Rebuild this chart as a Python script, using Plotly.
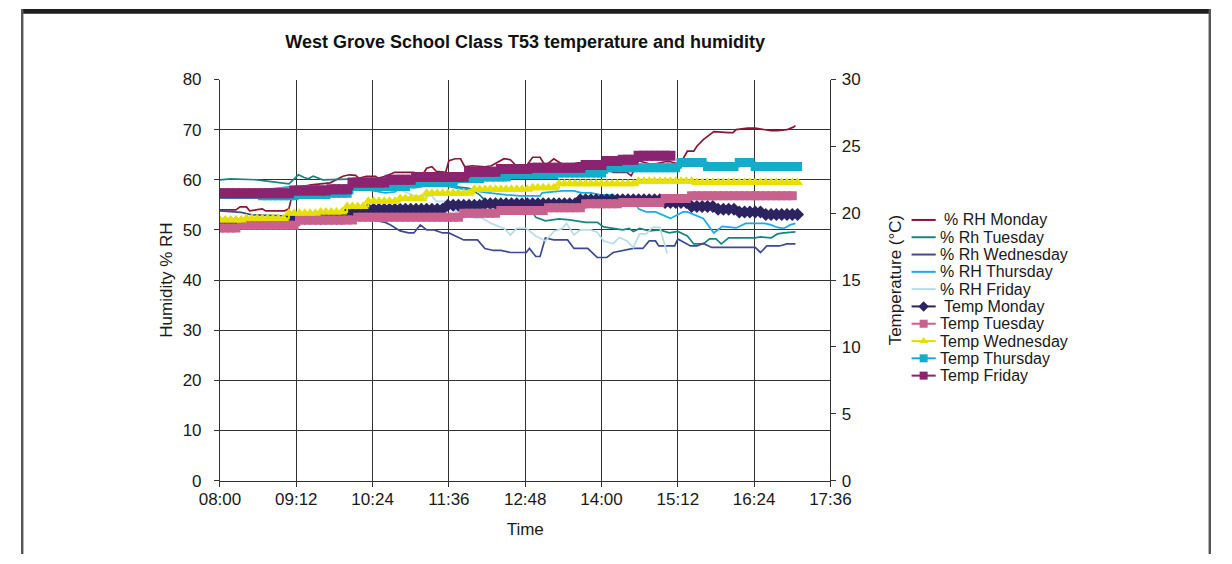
import pandas as pd
import plotly.graph_objects as go

DAY = "2000-01-01 "

# ---------------- % RH readings (time, %RH) ----------------
rh_monday = [("08:00",54.0),("08:15",54.0),("08:19",54.6),("08:25",54.6),("08:28",53.8),("08:37",54.2),("08:40",54.2),
             ("08:43",53.8),("09:01",53.8),("09:05",54.2),("09:07",56.0),("09:10",57.5),("09:14",58.5),("09:26",59.0),
             ("09:44",59.4),("09:56",60.7),("10:02",61.0),("10:08",60.9),("10:11",60.3),("10:18",60.7),("10:27",60.7),
             ("10:29",60.3),("10:36",60.7),("10:45",61.5),("11:03",61.5),("11:09",60.3),("11:15",62.3),("11:20",62.6),
             ("11:24",61.7),("11:33",61.5),("11:36",63.8),("11:42",64.2),("11:47",64.2),("11:51",62.6),("11:58",62.8),
             ("12:10",62.6),("12:16",62.8),("12:28",64.2),("12:34",64.0),("12:40",62.7),("12:49",62.7),("12:55",64.5),
             ("13:02",64.5),("13:07",62.8),("13:15",64.2),("13:25",62.8),("13:38",63.4),("13:50",63.4),("13:59",62.3),
             ("14:05",62.3),("14:11",61.5),("14:24",61.5),("14:28",60.8),("14:35",63.8),("14:45",63.2),("14:51",63.2),
             ("15:00",63.6),("15:05",63.6),("15:12",63.2),("15:17",64.2),("15:21",65.7),("15:27",65.7),("15:30",66.7),
             ("15:36",68.0),("15:46",69.6),("16:00",69.4),("16:04",69.4),("16:07",70.0),("16:18",70.3),("16:25",70.3),
             ("16:34",70.0),("16:40",69.8),("16:46",69.8),("16:55",70.0),("17:01",70.5),("17:03",70.8)]
rh_tuesday = [("08:00",60.0),("08:10",60.2),("08:35",60.0),("08:56",59.5),("09:05",59.2),("09:10",60.2),("09:14",61.0),
              ("09:19",60.5),("09:23",60.2),("09:28",60.7),("09:37",60.0),("10:08",60.2),("10:30",59.6),("10:50",59.0),
              ("11:03",58.8),("11:36",58.8),("11:55",58.3),("12:05",57.0),("12:12",55.5),("12:25",55.2),("12:50",55.2),
              ("12:58",52.5),("13:07",51.8),("13:20",52.2),("13:30",52.0),("13:45",51.5),("13:56",51.5),("14:02",50.6),
              ("14:11",50.3),("14:20",50.0),("14:26",50.3),("14:30",49.7),("14:36",50.3),("14:45",49.8),("14:55",50.0),
              ("15:04",49.4),("15:12",49.7),("15:21",48.8),("15:27",47.2),("15:36",47.2),("15:42",48.2),("15:48",48.2),
              ("15:53",47.2),("16:00",48.4),("16:25",48.4),("16:30",48.6),("16:40",48.4),("16:46",49.2),("16:52",49.4),
              ("17:03",49.6)]
rh_wednesday = [("08:00",53.8),("08:20",53.5),("08:30",53.0),("09:00",52.8),("09:30",52.4),("10:00",52.0),("10:24",52.0),
                ("10:36",51.5),("10:41",51.0),("10:50",49.8),("10:58",49.4),("11:03",49.4),("11:09",51.0),("11:15",50.0),
                ("11:22",50.0),("11:30",49.4),("11:36",49.4),("11:50",48.0),("12:03",48.0),("12:10",46.3),("12:18",45.9),
                ("12:25",45.9),("12:34",45.5),("12:49",45.5),("12:52",46.3),("12:58",44.7),("13:02",44.7),("13:07",48.4),
                ("13:15",48.0),("13:28",48.0),("13:34",46.3),("13:47",46.3),("13:56",44.5),("14:05",44.5),("14:11",45.5),
                ("14:20",45.9),("14:30",46.3),("14:39",46.3),("14:45",47.8),("14:51",47.8),("14:54",46.8),("15:09",46.8),
                ("15:12",48.2),("15:24",46.8),("15:30",46.8),("15:36",47.3),("15:44",46.5),("16:25",46.5),("16:30",45.5),
                ("16:36",46.8),("16:48",46.8),("16:55",47.2),("17:03",47.2)]
rh_thursday = [("08:00",58.0),("08:40",58.0),("09:05",58.6),("09:30",58.8),("09:56",58.4),("10:20",58.0),("10:36",57.4),
               ("10:45",57.6),("10:52",58.6),("11:03",58.4),("11:15",58.8),("11:33",58.8),("11:42",58.4),("11:54",58.0),
               ("12:10",57.5),("12:30",57.0),("12:43",56.8),("13:02",56.8),("13:04",57.4),("13:23",57.8),("13:34",57.8),
               ("13:41",57.4),("13:50",57.4),("13:59",57.0),("14:11",57.0),("14:17",56.2),("14:26",56.2),("14:31",55.5),
               ("14:35",54.2),("14:42",53.6),("14:51",53.6),("15:05",52.3),("15:17",53.6),("15:21",53.6),("15:36",52.3),
               ("15:46",49.4),("15:54",50.7),("16:07",50.4),("16:16",51.3),("16:34",51.3),("16:40",51.0),("16:46",50.5),
               ("16:52",50.3),("16:58",51.0),("17:03",51.3)]
rh_friday = [("08:00",57.5),("09:00",57.8),("09:30",58.2),("10:00",58.4),("10:36",58.8),("10:50",58.0),("11:03",56.8),
             ("11:20",56.8),("11:24",55.7),("11:33",55.7),("11:40",54.0),("11:50",53.0),("12:00",52.4),("12:07",52.4),
             ("12:16",51.3),("12:28",50.3),("12:34",49.0),("12:40",50.3),("12:49",50.3),("12:58",48.8),("13:07",47.8),
             ("13:15",49.7),("13:23",50.3),("13:27",51.3),("13:34",49.0),("13:40",50.0),("13:50",50.0),("13:56",49.5),
             ("14:02",47.8),("14:11",47.3),("14:17",48.5),("14:24",47.8),("14:30",46.5),("14:36",49.2),("14:42",49.2),
             ("14:48",50.5),("14:55",50.5),("15:02",45.3)]

# ---------------- Temperature (°C): logger held levels (time level starts, °C) ----------------
temp_monday = [("08:00",19.3),("09:05",19.6),("09:56",20.0),("10:18",20.3),("11:33",20.6),("12:10",20.7),("13:36",21.0),
               ("15:00",20.8),("15:25",20.5),("15:48",20.3),("16:07",20.1),("16:32",19.9)]
temp_tuesday = [("08:00",18.9),("08:19",19.1),("09:12",19.5),("10:08",19.7),("11:49",20.0),("12:25",20.2),("13:07",20.4),
                ("13:43",20.7),("14:20",20.8),("15:00",21.1),("15:21",21.3)]
temp_wednesday = [("08:00",19.5),("08:25",19.6),("09:05",20.0),("09:35",20.1),("09:56",20.5),("10:18",20.9),("10:48",21.1),
                  ("11:15",21.5),("11:58",21.8),("12:55",21.9),("13:20",22.2),("14:35",22.4),("15:27",22.3)]
temp_thursday = [("08:00",21.4),("08:40",21.3),("09:12",21.4),("09:45",21.5),("10:02",22.0),("10:58",22.3),("11:45",22.6),
                 ("12:10",22.7),("12:34",22.9),("13:20",23.0),("14:05",23.4),("15:12",23.8),("15:40",23.5),("16:07",23.8),
                 ("16:22",23.5)]
temp_friday = [("08:00",21.5),("09:07",21.7),("09:44",21.8),("10:02",22.3),("10:36",22.5),("11:03",22.7),("11:51",23.1),
               ("12:25",23.3),("12:55",23.4),("13:43",23.6),("14:05",23.9),("14:20",24.0),("14:31",24.3)]
temp_end = {"mon": "17:05", "tue": "17:00", "wed": "17:05", "thu": "17:05", "fri": "15:05"}
LOG_INTERVAL = "5min"

rh_names = [" % RH Monday", "% Rh Tuesday", "% Rh Wednesday", "% RH Thursday", "% RH Friday"]
temp_names = [" Temp Monday", "Temp Tuesday", "Temp Wednesday", "Temp Thursday", "Temp Friday"]

x_ticks_start, x_ticks_end = "08:00", "17:36"

FONT = "Liberation Sans, Arial, Helvetica, sans-serif"
W, H = 1232, 564
PX0, PX1, PY0, PY1 = 206, 838, 73, 488   # plot area in px


def split(pairs):
    return [pd.Timestamp(DAY + t) for t, _ in pairs], [v for _, v in pairs]


def logged(pairs, end):
    times, levels = split(pairs)
    idx = pd.date_range(times[0], pd.Timestamp(DAY + end), freq=LOG_INTERVAL)
    s = pd.Series(levels, index=pd.DatetimeIndex(times)).reindex(idx, method="ffill")
    return list(s.index), list(s.values)


fig = go.Figure()

rh_series = [rh_monday, rh_tuesday, rh_wednesday, rh_thursday, rh_friday]
rh_colors = ["#8B1535", "#16857F", "#3E4A90", "#19ACE4", "#B8DDE6"]
for name, data, col in zip(rh_names, rh_series, rh_colors):
    x, y = split(data)
    fig.add_trace(go.Scatter(x=x, y=y, name=name.strip(), mode="lines",
                             line=dict(color=col, width=1.7), showlegend=False,
                             xaxis="x", yaxis="y"))

temp_series = [(temp_monday, "mon"), (temp_tuesday, "tue"), (temp_wednesday, "wed"),
               (temp_thursday, "thu"), (temp_friday, "fri")]
temp_colors = ["#2C2360", "#C8618E", "#E6E000", "#12ADCA", "#8A2470"]
temp_symbols = ["diamond", "square", "triangle-up", "square", "square"]
temp_sizes = [10, 9, 10, 9, 10]
for name, (data, key), col, sym, sz in zip(temp_names, temp_series, temp_colors, temp_symbols, temp_sizes):
    x, y = logged(data, temp_end[key])
    fig.add_trace(go.Scatter(x=x, y=y, name=name.strip(), mode="lines+markers",
                             line=dict(color=col, width=2, shape="hv"),
                             marker=dict(symbol=sym, size=sz, color=col, line=dict(width=0)),
                             showlegend=False, xaxis="x", yaxis="y2"))

# ---------------- hand-built legend (px-space helper axes) ----------------
leg_y0, leg_dy = 218.3, 17.9
leg_x0, leg_x1, leg_txt = 922, 947, 950
all_names = rh_names + temp_names
all_colors = rh_colors + temp_colors
annotations = []
for i, (name, col) in enumerate(zip(all_names, all_colors)):
    yy = leg_y0 + i * leg_dy
    fig.add_trace(go.Scatter(x=[leg_x0, leg_x1], y=[yy, yy], mode="lines",
                             line=dict(color=col, width=2), showlegend=False,
                             hoverinfo="skip", xaxis="x3", yaxis="y3"))
    if i >= 5:
        j = i - 5
        fig.add_trace(go.Scatter(x=[(leg_x0 + leg_x1) / 2], y=[yy], mode="markers",
                                 marker=dict(symbol=temp_symbols[j], size=8, color=col),
                                 showlegend=False, hoverinfo="skip", xaxis="x3", yaxis="y3"))
    lead = 5 if name.startswith(" ") else 0
    annotations.append(dict(text=name.strip(), x=leg_txt + lead, y=yy, xref="x3", yref="y3",
                            xanchor="left", yanchor="middle", showarrow=False, borderpad=0,
                            font=dict(family=FONT, size=16, color="#1a1a1a")))

grid = "#333333"
axis_common = dict(showline=True, linecolor=grid, linewidth=1, ticks="outside", ticklen=5,
                   tickcolor=grid, tickfont=dict(family=FONT, size=17, color="#1a1a1a"),
                   zeroline=False, fixedrange=True)

fig.update_layout(
    width=W, height=H,
    margin=dict(l=0, r=0, t=0, b=0),
    paper_bgcolor="white", plot_bgcolor="rgba(0,0,0,0)",
    font=dict(family=FONT, size=17, color="#1a1a1a"),
    title=dict(text="<b>West Grove School Class T53 temperature and humidity</b>",
               x=522 / W, y=1 - 34 / H, xref="paper", yref="paper",
               xanchor="center", yanchor="middle",
               font=dict(family=FONT, size=18, color="#111")),
    xaxis=dict(domain=[PX0 / W, PX1 / W], type="date", anchor="y",
               range=[DAY + x_ticks_start, DAY + x_ticks_end],
               tick0=DAY + x_ticks_start, dtick=72 * 60 * 1000, tickformat="%H:%M",
               showgrid=True, gridcolor=grid, gridwidth=1, ticklabelstandoff=-2,
               title=dict(text="Time", standoff=15, font=dict(family=FONT, size=17)),
               **axis_common),
    yaxis=dict(domain=[1 - PY1 / H, 1 - PY0 / H], range=[0, 80], dtick=10, anchor="x",
               showgrid=True, gridcolor=grid, gridwidth=1, ticklabelstandoff=9,
               title=dict(text="Humidity % RH", standoff=5, font=dict(family=FONT, size=17)),
               **axis_common),
    yaxis2=dict(range=[0, 30], dtick=5, overlaying="y", side="right", anchor="x",
                showgrid=False, ticklabelstandoff=2,
                title=dict(text="Temperature (°C)", standoff=29, font=dict(family=FONT, size=17)),
                **axis_common),
    xaxis3=dict(domain=[0, 1], range=[0, W], visible=False, fixedrange=True, anchor="y3"),
    yaxis3=dict(domain=[0, 1], range=[H, 0], visible=False, fixedrange=True, anchor="x3"),
    showlegend=False,
    annotations=annotations,
    shapes=[
        dict(type="rect", xref="paper", yref="paper", x0=0, x1=1, y0=1 - 5 / H, y1=1,
             fillcolor="#1e1e1e", line=dict(width=0), layer="above"),
        dict(type="rect", xref="paper", yref="paper", x0=0, x1=2.5 / W, y0=0, y1=1,
             fillcolor="#555", line=dict(width=0), layer="above"),
        dict(type="rect", xref="paper", yref="paper", x0=1 - 2.5 / W, x1=1, y0=0, y1=1,
             fillcolor="#555", line=dict(width=0), layer="above"),
    ],
)

fig.write_html("out.html",
               post_script="document.body.style.margin='0';document.body.style.overflow='hidden';")
